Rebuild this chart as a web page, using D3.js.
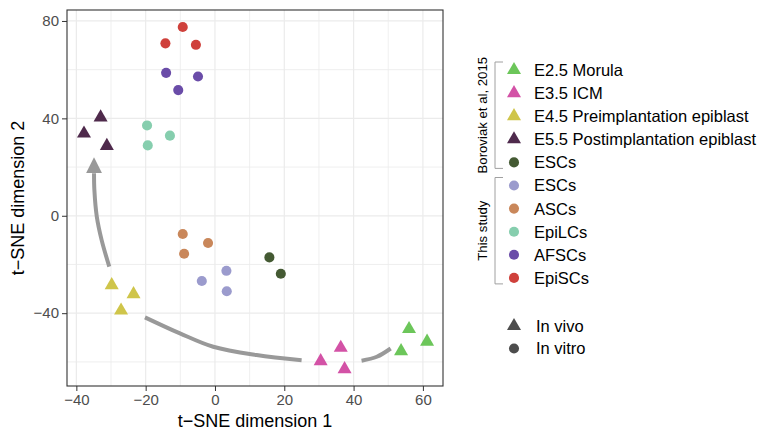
<!DOCTYPE html>
<html>
<head>
<meta charset="utf-8">
<script src="https://cdn.jsdelivr.net/npm/d3@7"></script>
<style>
  body { margin: 0; background: #fff; }
  text { font-family: "Liberation Sans", Arial, Helvetica, sans-serif; }
</style>
</head>
<body>
<svg id="chart" width="761" height="430"></svg>
<script>
// groups, in legend order
var groups = ['E2.5 Morula', 'E3.5 ICM', 'E4.5 Preimplantation epiblast',
  'E5.5 Postimplantation epiblast', 'ESCs (Boroviak)', 'ESCs', 'ASCs',
  'EpiLCs', 'AFSCs', 'EpiSCs'];
var legendLabels = ['E2.5 Morula', 'E3.5 ICM', 'E4.5 Preimplantation epiblast',
  'E5.5 Postimplantation epiblast', 'ESCs', 'ESCs', 'ASCs', 'EpiLCs', 'AFSCs', 'EpiSCs'];
var groupColors = ['#6cc65a', '#d352a6', '#cfc54a', '#4f2a4c', '#445a33',
  '#9b9bcd', '#c9875a', '#86ceae', '#6a4ca8', '#cf403b'];
var groupShapes = ['vivo', 'vivo', 'vivo', 'vivo', 'vitro',
  'vitro', 'vitro', 'vitro', 'vitro', 'vitro'];

// t-SNE coordinates, per group
var tsneX = [
  [56.0, 61.2, 53.7],
  [30.5, 36.3, 37.4],
  [-29.8, -23.5, -27.1],
  [-37.8, -33.0, -31.2],
  [15.7, 19.0],
  [3.3, -3.8, 3.4],
  [-9.3, -2.0, -8.9],
  [-19.6, -13.0, -19.4],
  [-14.1, -4.9, -10.6],
  [-9.3, -14.3, -5.5]
];
var tsneY = [
  [-46.5, -51.7, -55.6],
  [-59.7, -54.2, -63.0],
  [-28.5, -32.2, -38.9],
  [33.8, 40.4, 28.7],
  [-17.1, -23.8],
  [-22.6, -26.8, -31.0],
  [-7.5, -11.2, -15.6],
  [37.1, 32.9, 28.9],
  [58.7, 57.2, 51.6],
  [77.5, 70.8, 70.2]
];

// developmental trajectory arrow (three pieces, gaps over the clusters)
var arrowX = [
  [50.7, 46.7, 42.3],
  [25.0, 12.0, -0.5, -10.1, -20.2],
  [-30.5, -32.7, -34.1, -34.8, -34.9]
];
var arrowY = [
  [-54.5, -57.9, -59.5],
  [-59.3, -57.2, -53.8, -48.3, -41.7],
  [-20.9, -10.0, -0.4, 10.6, 17.5]
];

var xTicks = [-40, -20, 0, 20, 40, 60];
var yTicks = [-40, 0, 40, 80];
var xMinor = [-30, -10, 10, 30, 50];
var yMinor = [-60, -20, 20, 60];

var svg = d3.select('#chart');
var panel = { left: 67, right: 443, top: 10, bottom: 386 };

var x = d3.scaleLinear().domain([-42.7, 65.8]).range([panel.left, panel.right]);
var y = d3.scaleLinear().domain([-69.9, 84.5]).range([panel.bottom, panel.top]);

// grid
var grid = svg.append('g').attr('class', 'grid');
grid.selectAll('line.vx')
  .data(xTicks.concat(xMinor))
  .enter().append('line')
  .attr('x1', function (d) { return x(d); })
  .attr('x2', function (d) { return x(d); })
  .attr('y1', panel.top).attr('y2', panel.bottom)
  .attr('stroke', '#ebebeb')
  .attr('stroke-width', function (d) { return xTicks.indexOf(d) >= 0 ? 1.2 : 0.8; });
grid.selectAll('line.hy')
  .data(yTicks.concat(yMinor))
  .enter().append('line')
  .attr('y1', function (d) { return y(d); })
  .attr('y2', function (d) { return y(d); })
  .attr('x1', panel.left).attr('x2', panel.right)
  .attr('stroke', '#ebebeb')
  .attr('stroke-width', function (d) { return yTicks.indexOf(d) >= 0 ? 1.2 : 0.8; });

// axes
var fmt = function (d) { return d < 0 ? '\u2212' + Math.abs(d) : d; };
var xAxis = svg.append('g')
  .attr('transform', 'translate(0,' + panel.bottom + ')')
  .call(d3.axisBottom(x).tickValues(xTicks).tickSize(5).tickPadding(3).tickFormat(fmt));
var yAxis = svg.append('g')
  .attr('transform', 'translate(' + panel.left + ',0)')
  .call(d3.axisLeft(y).tickValues(yTicks).tickSize(5).tickPadding(3).tickFormat(fmt));
[xAxis, yAxis].forEach(function (ax) {
  ax.select('.domain').remove();
  ax.selectAll('.tick line').attr('stroke', '#333');
  ax.selectAll('.tick text').attr('fill', '#4d4d4d')
    .style('font-size', '15px');
});

// panel border
svg.append('rect')
  .attr('x', panel.left).attr('y', panel.top)
  .attr('width', panel.right - panel.left)
  .attr('height', panel.bottom - panel.top)
  .attr('fill', 'none').attr('stroke', '#333').attr('stroke-width', 1.1);

// axis titles
svg.append('text')
  .attr('x', (panel.left + panel.right) / 2).attr('y', 427)
  .attr('text-anchor', 'middle')
  .style('font-size', '18px')
  .text('t\u2212SNE dimension 1');
svg.append('text')
  .attr('transform', 'translate(24,' + ((panel.top + panel.bottom) / 2) + ') rotate(-90)')
  .attr('text-anchor', 'middle')
  .style('font-size', '18px')
  .text('t\u2212SNE dimension 2');

// arrow
var defs = svg.append('defs');
defs.append('marker')
  .attr('id', 'head')
  .attr('viewBox', '0 0 16 16')
  .attr('refX', 0).attr('refY', 8)
  .attr('markerWidth', 16).attr('markerHeight', 16)
  .attr('markerUnits', 'userSpaceOnUse')
  .attr('orient', 'auto')
  .append('path')
  .attr('d', 'M0,0 L16,8 L0,16 Z')
  .attr('fill', '#999');

var line = d3.line()
  .x(function (d) { return x(d[0]); })
  .y(function (d) { return y(d[1]); })
  .curve(d3.curveCatmullRom.alpha(0.5));

svg.append('g').selectAll('path')
  .data(arrowX.map(function (xs, i) {
    return xs.map(function (v, j) { return [v, arrowY[i][j]]; });
  }))
  .enter().append('path')
  .attr('d', line)
  .attr('fill', 'none')
  .attr('stroke', '#999')
  .attr('stroke-width', 4)
  .attr('marker-end', function (d, i) { return i === 2 ? 'url(#head)' : null; });

// points
var triangle = d3.symbol().type(d3.symbolTriangle).size(85);
var circle = d3.symbol().type(d3.symbolCircle).size(80);

var points = [];
groups.forEach(function (g, gi) {
  tsneX[gi].forEach(function (v, j) {
    points.push({ group: gi, x: v, y: tsneY[gi][j] });
  });
});

svg.append('g').selectAll('path')
  .data(points)
  .enter().append('path')
  .attr('transform', function (d) { return 'translate(' + x(d.x) + ',' + y(d.y) + ')'; })
  .attr('d', function (d) { return groupShapes[d.group] === 'vivo' ? triangle() : circle(); })
  .attr('fill', function (d) { return groupColors[d.group]; });

// legend
var legendTop = 70, legendStep = 23.1;
var legend = svg.append('g');
var items = legend.selectAll('g')
  .data(groups)
  .enter().append('g')
  .attr('transform', function (d, i) { return 'translate(514,' + (legendTop + i * legendStep) + ')'; });
items.append('path')
  .attr('d', function (d, i) { return groupShapes[i] === 'vivo' ? triangle() : circle(); })
  .attr('fill', function (d, i) { return groupColors[i]; });
items.append('text')
  .attr('x', 20).attr('dy', '0.36em')
  .style('font-size', '16.5px')
  .text(function (d, i) { return legendLabels[i]; });

// source brackets
var brackets = [
  { label: 'Boroviak et al, 2015', from: 0, to: 4 },
  { label: 'This study', from: 5, to: 9 }
];
brackets.forEach(function (b) {
  var y0 = legendTop + b.from * legendStep - 8;
  var y1 = legendTop + b.to * legendStep + 6;
  legend.append('path')
    .attr('d', 'M503,' + y0 + 'H495V' + y1 + 'H503')
    .attr('fill', 'none').attr('stroke', '#a0a0a0').attr('stroke-width', 1);
  legend.append('text')
    .attr('transform', 'translate(487,' + ((y0 + y1) / 2) + ') rotate(-90)')
    .attr('text-anchor', 'middle')
    .style('font-size', '13.2px')
    .text(b.label);
});

// shape legend
var shapes = [{ label: 'In vivo', shape: 'vivo' }, { label: 'In vitro', shape: 'vitro' }];
var shapeItems = legend.selectAll('g.shape')
  .data(shapes)
  .enter().append('g')
  .attr('class', 'shape')
  .attr('transform', function (d, i) { return 'translate(514,' + (326 + i * 22.5) + ')'; });
shapeItems.append('path')
  .attr('d', function (d) { return d.shape === 'vivo' ? triangle() : circle(); })
  .attr('fill', '#4d4d4d');
shapeItems.append('text')
  .attr('x', 22).attr('dy', '0.36em')
  .style('font-size', '16.5px')
  .text(function (d) { return d.label; });
</script>
</body>
</html>
